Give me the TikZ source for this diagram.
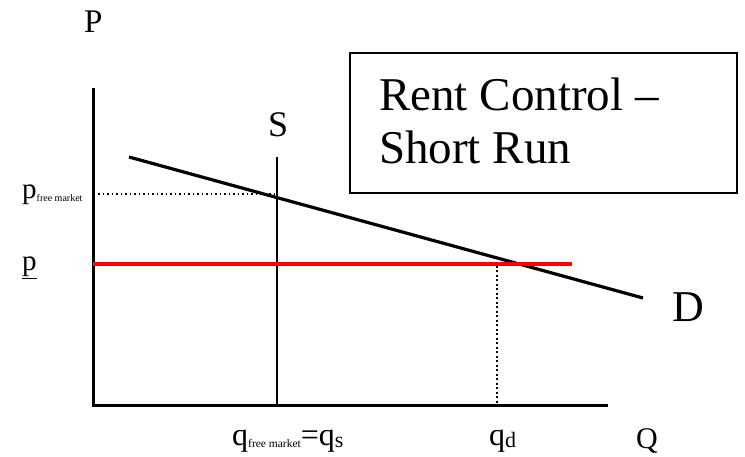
\documentclass[tikz,border=0pt]{standalone}
\usepackage{fontspec}
\setmainfont{Liberation Serif}
\begin{document}
\begin{tikzpicture}[x=1pt,y=-1pt,
  axis/.style={line width=3pt},
  curve/.style={line width=3.2pt},
  ctrl/.style={line width=3.4pt,red},
  guide/.style={line width=2pt,dash pattern=on 1.8pt off 2.7pt},
  lbl/.style={inner sep=0pt,anchor=base west}]
\useasboundingbox (0,0) rectangle (745,457);
% axes
\coordinate (top) at (93,88);
\coordinate (orig) at (93,405);
\coordinate (right) at (608,405);
\draw[axis] (top) -- (orig) -- (right);
% demand
\coordinate (D1) at (129,157);
\coordinate (D2) at (643,298);
\draw[curve] (D1) -- (D2);
% supply
\coordinate (S1) at (277,157);
\coordinate (S2) at (277,405);
\draw[line width=2.6pt] (S1) -- (S2);
% free market price
\coordinate (pf) at (98,194);
\coordinate (E) at (277,194);
\draw[guide] (pf) -- (E);
% rent control line
\coordinate (r1) at (93,264);
\coordinate (r2) at (572,264);
\draw[ctrl] (r1) -- (r2);
% qd guide
\coordinate (qd1) at (497,266);
\coordinate (qd2) at (497,403);
\draw[guide] (qd1) -- (qd2);
% labels
\node[lbl,font=\fontsize{33}{33}\selectfont] (P) at (84,33) {P};
\node[lbl,font=\fontsize{30}{30}\selectfont] (Q) at (636,448) {Q};
\node[lbl,font=\fontsize{36}{36}\selectfont] (S) at (268,137) {S};
\node[lbl,font=\fontsize{44}{44}\selectfont] (D) at (672,322) {D};
\node[lbl,font=\fontsize{29}{29}\selectfont] (pfm) at (22,199) {p\raisebox{-3pt}{\fontsize{10}{10}\selectfont free market}};
\node[lbl,font=\fontsize{29}{29}\selectfont] (pc) at (22,271) {\underline{p}};
\node[lbl,font=\fontsize{32}{32}\selectfont] (qfm) at (232,445) {q\raisebox{-2pt}{\fontsize{11.5}{11.5}\selectfont free market}=q\raisebox{-2pt}{\fontsize{22}{22}\selectfont s}};
\node[lbl,font=\fontsize{32}{32}\selectfont] (qd) at (489,445) {q\raisebox{-2pt}{\fontsize{22}{22}\selectfont d}};
% title box
\draw[line width=1.4pt] (350,53) rectangle (737,193);
\node[lbl,font=\fontsize{47}{53}\selectfont] (title1) at (379,111) {Rent Control –};
\node[lbl,font=\fontsize{47}{53}\selectfont] (title2) at (379,164) {Short Run};
\end{tikzpicture}
\end{document}
